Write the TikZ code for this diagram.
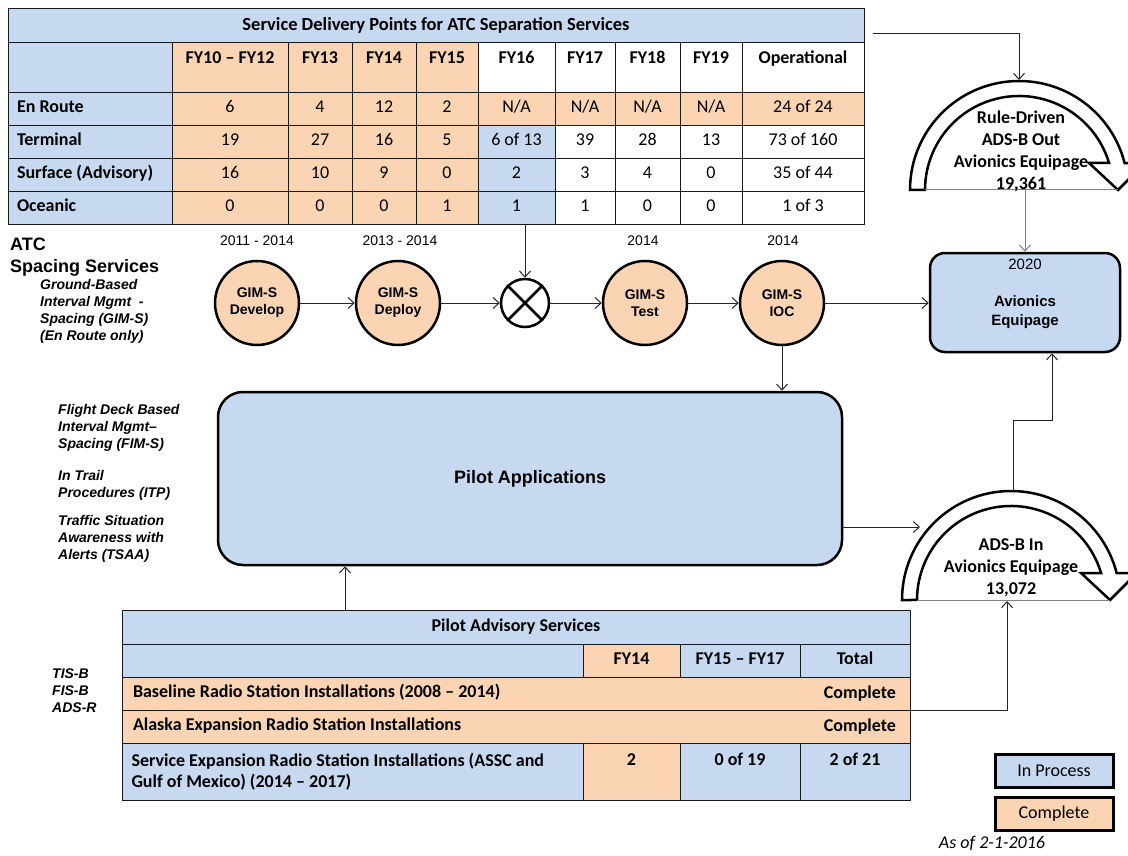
\documentclass[tikz,border=0pt]{standalone}
\usepackage{fontspec}
\setmainfont{Carlito}
\newfontfamily\arialfont{Liberation Sans}
\usetikzlibrary{arrows.meta}
\definecolor{inproc}{HTML}{C6D9F1}
\definecolor{done}{HTML}{FBD4B4}

\begin{document}
\begin{tikzpicture}[x=1pt, y=1pt, >={Straight Barb[length=6pt,width=11pt]}]
    \tikzstyle{cell}=[draw=black!90, line width=0.8pt, inner sep=0pt, font=\fontsize{18}{21}\selectfont]
    \tikzstyle{row}=[cell, text height=12.5pt, text depth=4pt]
    \tikzstyle{stage}=[circle, draw, line width=2.5pt, fill=done, minimum size=84pt, inner sep=0pt, align=center, font=\arialfont\bfseries\fontsize{14}{17}\selectfont]
    \tikzstyle{year}=[font=\arialfont\fontsize{14}{17}\selectfont]
    \tikzstyle{box}=[draw, line width=2.5pt, fill=inproc, rounded corners=15pt]
    \tikzstyle{note}=[anchor=north west, align=flush left, inner sep=0pt, font=\arialfont\bfseries\itshape\fontsize{14}{17}\selectfont]
    \tikzstyle{link}=[->, draw=black!85, line width=1pt]
    \tikzstyle{ring}=[draw, line width=2.5pt, fill=white, line join=miter]
    \tikzstyle{ringtext}=[align=center, font=\bfseries\fontsize{18}{22}\selectfont]
    \tikzstyle{key}=[draw, line width=3pt, minimum width=118pt, minimum height=33pt, font=\fontsize{18}{21}\selectfont]

    \useasboundingbox (0,0) rectangle (1128,-856);

    \def\sdpx{{8,172,288,352,416,478,555,615,680,742,864}}
    \def\pasx{{122,583,680,800,910}}

    % Block arrow bent over the equipage counts
    \def\ringarrow#1#2{%
        \draw[ring] (#1-109,#2) arc[start angle=180, end angle=14.34, radius=109]
            -- (#1+126,#2+27) -- (#1+99,#2) -- (#1+70,#2+27) -- (#1+90.05,#2+27)
            arc[start angle=16.69, end angle=180, radius=94] -- cycle;
        \draw[gray, line width=1pt] (#1-94,#2) -- (#1+99,#2);
    }

    % Service delivery table: title and header row
    \node[cell, fill=inproc, minimum width=856pt, minimum height=34pt] (sdp-title) at (436,-25)
        {\bfseries\fontsize{18.5}{21}\selectfont Service Delivery Points for ATC Separation Services};
    \foreach \c/\fc/\txt in {0/inproc/{},1/done/{FY10 – FY12},2/done/FY13,3/done/FY14,4/done/FY15,
                             5/white/FY16,6/white/FY17,7/white/FY18,8/white/FY19,9/white/Operational}{
        \pgfmathtruncatemacro{\cn}{\c+1}
        \pgfmathsetmacro{\xa}{\sdpx[\c]}
        \pgfmathsetmacro{\xb}{\sdpx[\cn]}
        \pgfmathsetmacro{\w}{\xb-\xa}
        \node[row, fill=\fc, minimum width=\w pt, minimum height=50pt, text depth=19pt]
            (sdp-0-\c) at ({(\xa+\xb)/2},-67) {\bfseries\txt};
    }

    % Service delivery table: one row per domain
    \foreach \r/\lab/\vals in {1/En Route/{6,4,12,2,N/A,N/A,N/A,N/A,24 of 24},
                               2/Terminal/{19,27,16,5,6 of 13,39,28,13,73 of 160},
                               3/Surface (Advisory)/{16,10,9,0,2,3,4,0,35 of 44},
                               4/Oceanic/{0,0,0,1,1,1,0,0,1 of 3}}{
        \pgfmathsetmacro{\yc}{75.5+33*\r}
        \node[row, fill=inproc, minimum width=164pt, minimum height=33pt, text width=146pt, align=flush left]
            (sdp-\r-0) at (90,-\yc) {\bfseries\lab};
        \foreach \txt [count=\c] in \vals {
            \ifnum\r=1 \def\fc{done}\else
                \ifnum\c<5 \def\fc{done}\else\ifnum\c=5 \def\fc{inproc}\else\def\fc{white}\fi\fi
            \fi
            \pgfmathtruncatemacro{\cn}{\c+1}
            \pgfmathsetmacro{\xa}{\sdpx[\c]}
            \pgfmathsetmacro{\xb}{\sdpx[\cn]}
            \pgfmathsetmacro{\w}{\xb-\xa}
            \node[row, fill=\fc, minimum width=\w pt, minimum height=33pt]
                (sdp-\r-\c) at ({(\xa+\xb)/2},-\yc) {\txt};
        }
    }

    % ATC spacing services
    \node[anchor=north west, align=flush left, inner sep=0pt, font=\arialfont\bfseries\fontsize{18}{22}\selectfont]
        (atc) at (10,-238) {ATC\\Spacing Services};
    \node[note] (gims) at (40,-279) {Ground-Based\\Interval Mgmt\ \ -\\Spacing (GIM-S)\\(En Route only)};

    \node[year] (yr-dev) at (257,-241) {2011 - 2014};
    \node[year] (yr-dep) at (400,-241) {2013 - 2014};
    \node[year] (yr-tst) at (643,-241) {2014};
    \node[year] (yr-ioc) at (783,-241) {2014};

    \node[stage] (dev) at (257,-303) {GIM-S\\Develop};
    \node[stage] (dep) at (398,-303) {GIM-S\\Deploy};
    \node[circle, draw, line width=2.5pt, minimum size=48pt] (cross) at (525,-303) {};
    \draw[line width=2.5pt] (cross.north east) -- (cross.south west);
    \draw[line width=2.5pt] (cross.north west) -- (cross.south east);
    \node[stage] (tst) at (645,-303) {GIM-S\\Test};
    \node[stage] (ioc) at (782,-303) {GIM-S\\IOC};

    \node[box, minimum width=190pt, minimum height=99pt] (avi) at (1025,-302.5) {};
    \node[year, font=\arialfont\fontsize{15}{18}\selectfont] (avi-year) at ([yshift=-13pt]avi.north) {2020};
    \node[align=center, font=\arialfont\bfseries\fontsize{15}{19}\selectfont] (avi-text)
        at ([yshift=-10pt]avi.center) {Avionics\\Equipage};

    % Pilot applications
    \node[note] (fims) at (58,-404) {Flight Deck Based\\Interval Mgmt–\\Spacing (FIM-S)};
    \node[note] (itp) at (58,-470) {In Trail\\Procedures (ITP)};
    \node[note] (tsaa) at (58,-515) {Traffic Situation\\Awareness with\\Alerts (TSAA)};
    \node[box, rounded corners=25pt, minimum width=624pt, minimum height=173pt,
          font=\arialfont\bfseries\fontsize{18}{22}\selectfont] (pilot) at (530,-478.5) {Pilot Applications};

    % Equipage rings
    \ringarrow{1019}{-190}
    \node[ringtext] (rd) at (1021,-151) {Rule-Driven\\ADS-B Out\\Avionics Equipage\\19,361};
    \coordinate (rd-top) at (1019,-80);
    \coordinate (rd-base) at (1025,-190);

    \ringarrow{1011}{-600}
    \node[ringtext] (ai) at (1011,-568) {ADS-B In\\Avionics Equipage\\13,072};
    \coordinate (ai-top) at (1013,-491);
    \coordinate (ai-left) at (920,-527);
    \coordinate (ai-base) at (1007,-601);

    % Pilot advisory services table
    \node[note] (tisb) at (52,-669) {TIS-B\\FIS-B\\ADS-R};
    \node[row, fill=inproc, minimum width=788pt, minimum height=34pt] (pas-title) at (516,-627)
        {\bfseries Pilot Advisory Services};
    \foreach \c/\fc/\txt in {0/inproc/{},1/done/FY14,2/inproc/{FY15 – FY17},3/inproc/Total}{
        \pgfmathtruncatemacro{\cn}{\c+1}
        \pgfmathsetmacro{\xa}{\pasx[\c]}
        \pgfmathsetmacro{\xb}{\pasx[\cn]}
        \pgfmathsetmacro{\w}{\xb-\xa}
        \node[row, fill=\fc, minimum width=\w pt, minimum height=33pt]
            (pas-0-\c) at ({(\xa+\xb)/2},-660.5) {\bfseries\txt};
    }
    \node[row, fill=done, minimum width=788pt, minimum height=33pt, text width=766pt, align=flush left]
        (pas-base) at (516,-693.5) {\bfseries Baseline Radio Station Installations (2008 – 2014)};
    \node[anchor=east, font=\bfseries\fontsize{18}{21}\selectfont] (pas-base-done)
        at ([xshift=-11pt]pas-base.east) {Complete};
    \node[row, fill=done, minimum width=788pt, minimum height=33pt, text width=766pt, align=flush left]
        (pas-alaska) at (516,-726.5) {\bfseries Alaska Expansion Radio Station Installations};
    \node[anchor=east, font=\bfseries\fontsize{18}{21}\selectfont] (pas-alaska-done)
        at ([xshift=-11pt]pas-alaska.east) {Complete};
    \node[cell, fill=inproc, minimum width=461pt, minimum height=57pt, text width=442pt, align=flush left]
        (pas-exp) at (352.5,-771.5)
        {\bfseries Service Expansion Radio Station Installations (ASSC and\\Gulf of Mexico) (2014 – 2017)};
    \foreach \c/\fc/\txt in {1/done/2,2/inproc/0 of 19,3/inproc/2 of 21}{
        \pgfmathtruncatemacro{\cn}{\c+1}
        \pgfmathsetmacro{\xa}{\pasx[\c]}
        \pgfmathsetmacro{\xb}{\pasx[\cn]}
        \pgfmathsetmacro{\w}{\xb-\xa}
        \node[row, fill=\fc, minimum width=\w pt, minimum height=57pt, text depth=24pt]
            (pas-3-\c) at ({(\xa+\xb)/2},-771.5) {\bfseries\txt};
    }
    \coordinate (pas-out) at ([xshift=-171pt]pas-title.north);

    % Legend
    \node[key, fill=inproc] (key-inproc) at (1054,-771) {In Process};
    \node[key, fill=done] (key-done) at (1054,-814) {Complete};
    \node[font=\itshape\fontsize{18}{21}\selectfont] (asof) at (992,-843) {As of 2-1-2016};

    % Connectors
    \draw[link] ([shift={(9pt,-9pt)}]sdp-title.east) -| (rd-top);
    \draw[link] (cross |- sdp-4-5.south) -- (cross);
    \draw[link] (dev) -- (dep);
    \draw[link] (dep) -- (cross);
    \draw[link] (cross) -- (tst);
    \draw[link] (tst) -- (ioc);
    \draw[link] (ioc.east) -- (ioc.east -| avi.west);
    \draw[link] (ioc) -- (ioc |- pilot.north);
    \draw[link, draw=gray] (rd-base) -- (rd-base |- avi.north);
    \draw[link] (ai-top) -- ++(0,71) -| ([xshift=27pt]avi.south);
    \draw[link] (pilot.east |- ai-left) -- (ai-left);
    \draw[link] (pas-out) -- (pas-out |- pilot.south);
    \draw[link] (pas-base.south east) -| (ai-base);
\end{tikzpicture}
\end{document}
